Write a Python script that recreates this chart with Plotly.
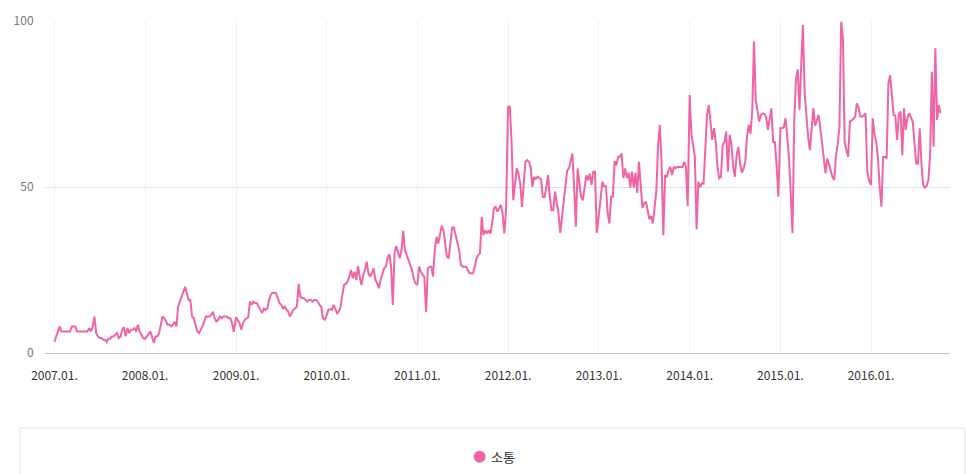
import datetime as dt
import plotly.graph_objects as go

# ---- data (weekly index values) ----
series_name = "소통"
years = [2007, 2008, 2009, 2010, 2011, 2012, 2013, 2014, 2015, 2016]

v2007 = [3.4, 5, 7, 8, 6.5, 6.5, 6.5, 6.5, 6.5, 6.5, 8, 8, 8, 6.5, 6.5, 6.5, 6.5, 6.5, 6.5, 6.5,
         7.5, 6.5, 8, 11, 6, 5, 4.5, 4.5, 4, 4, 3.3, 4.3, 4.3, 5, 5, 5.5, 6, 4.5, 5, 7,
         7.8, 5, 7.5, 6, 7, 7, 7.5, 6.5, 8.5, 6.5, 5.5, 4.5]
v2008 = [4.2, 5, 5.5, 6.5, 4.9, 3, 5, 5, 6, 9, 11, 10.5, 9.5, 8.5, 8.5, 8, 8.5, 9.4, 8, 14,
         15.5, 17, 19, 19.9, 18, 16, 16, 11, 10.5, 8, 6.5, 6, 7, 8, 9.5, 11, 11, 11, 11.5, 12.4,
         10.5, 9.5, 10, 11, 10.5, 11, 11, 11, 10.5, 10.5, 9, 6.4]
v2009 = [10.8, 10, 9, 7, 9, 10, 10.5, 10.8, 15.5, 14.5, 15.5, 15, 15, 14.2, 13, 12, 13.4, 13, 13.5, 16,
         17.5, 18.2, 18.2, 18, 16.5, 15, 14.5, 13.4, 14, 13, 12.5, 11, 12, 13, 13.5, 14, 20.8, 17, 16.5, 16.5,
         16, 15.5, 16, 16, 15.5, 16, 16, 15.5, 14.5, 14, 10.5, 10]
v2010 = [11.4, 13, 13.2, 13, 14.5, 13, 12, 12.5, 14, 17.5, 20.5, 20.8, 21.5, 23, 25, 22.5, 24.5, 22, 26.2, 23,
         20.5, 23.5, 25, 27.5, 24, 23, 24, 25.5, 22, 21, 19.5, 22, 24, 25.5, 26, 28.5, 29.8, 26, 14.5, 30,
         32.2, 30, 28.5, 31, 36.8, 31, 29.5, 28.5, 27, 25, 22.5, 21]
v2011 = [20.5, 26, 24.5, 23.5, 23, 12.3, 25.5, 26, 26, 23, 31, 35, 33, 36, 38.3, 37, 32, 29, 28.5, 33,
         37.8, 37.8, 35.5, 33, 31, 26.5, 26, 26, 26, 25, 24, 24, 24, 26, 28.5, 29.5, 30, 41, 35.5, 37,
         36, 37, 36, 39, 43.6, 44, 42.6, 43.6, 44.6, 42, 36, 43]
v2012 = [74.2, 74.2, 64, 46, 51, 55.6, 54, 51, 44, 51, 57.6, 58.1, 57.6, 56, 50, 53, 52.5, 53.1, 52.6, 52.3,
         47, 47, 50, 53.6, 47, 43, 43, 48.6, 45.2, 42.1, 36.2, 41, 44, 49, 55, 55.6, 58, 60.1, 50, 38,
         55.6, 50.6, 47, 46, 50, 53.6, 52, 54, 50.6, 54.6, 54.6, 36.2]
v2013 = [42, 48, 51.6, 50.2, 50.2, 42.1, 39, 47.1, 47.1, 57.8, 56.5, 59.1, 59.1, 60.1, 52.7, 55.6, 52.7, 54.3, 49.8, 54.6,
         49.8, 54.3, 48.2, 57.6, 51, 43.7, 45, 45.6, 43, 40.3, 41.3, 39, 44, 49, 62.6, 68.7, 57, 35.5, 53.6, 53,
         55, 56.1, 53.6, 56.1, 55.6, 56.1, 56, 56, 56, 57.6, 56, 44.3]
v2014 = [77.7, 66, 62.6, 59, 37.3, 51.6, 50, 51.1, 51, 60.6, 71.7, 74.7, 69.7, 64.2, 67.7, 63.6, 56.1, 52.6, 53, 62.7,
         63.5, 66.7, 54.6, 65.7, 63, 56.1, 53.1, 59.6, 62.1, 57, 54.3, 55.5, 57.6, 65.2, 68.7, 66, 73.2, 93.8, 76.2, 72.7,
         69.7, 71.7, 72.2, 72, 71, 67.2, 70.2, 73.7, 63.6, 63.5, 56.6, 47.1]
v2015 = [67.7, 67.7, 68, 70.7, 65, 58.6, 48, 36.1, 69.7, 82.4, 85.4, 73.2, 86.7, 98.8, 78.2, 70.7, 65, 61.1, 68.7, 73.7,
         68.5, 70, 71.7, 67.7, 63, 58, 54.1, 58.6, 57, 55, 53, 52.1, 59.6, 63, 68, 99.8, 94.8, 63.6, 61, 59.1,
         69.7, 70, 70.5, 71.2, 75.2, 74, 71.2, 71.2, 71.5, 72.2, 54.6, 52]
v2016 = [50.6, 70.7, 66, 63.6, 58.6, 50, 44.1, 59.1, 59.1, 58.6, 81.2, 83.7, 77, 71.7, 71.5, 64.2, 72, 72.7, 59.6, 73.7,
         67.2, 71, 72.2, 71, 69.7, 63.1, 57.1, 57, 67.7, 57.1, 50.6, 49.8, 50.3, 52.1, 59.6, 84.7, 62.1, 91.8, 70.2, 74.7,
         72.2]

yearly_values = [v2007, v2008, v2009, v2010, v2011, v2012, v2013, v2014, v2015, v2016]
tick_labels = ["2007.01.", "2008.01.", "2009.01.", "2010.01.", "2011.01.",
               "2012.01.", "2013.01.", "2014.01.", "2015.01.", "2016.01."]
y_ticks = [0, 50, 100]

# ---- build weekly dates ----
dates, values = [], []
for yr, vals in zip(years, yearly_values):
    start = dt.date(yr, 1, 1)
    for k, v in enumerate(vals):
        dates.append(start + dt.timedelta(days=7 * k))
        values.append(v)

tick_dates = [dt.date(y, 1, 1) for y in years]

LINE_COLOR = "#f064a6"
FONT = "Noto Sans CJK KR, Noto Sans, sans-serif"

fig = go.Figure()
fig.add_trace(go.Scatter(
    x=dates, y=values, mode="lines",
    line=dict(color=LINE_COLOR, width=2),
    showlegend=False, name=series_name,
))

# custom legend (boxed area below chart, circle + label)
leg_cx, leg_cy = 0.4803, -0.3123
legend_shapes = [
    dict(type="rect", xref="paper", yref="paper",
         x0=-0.0276, x1=1.0166, y0=-0.226, y1=-0.45,
         line=dict(color="#e3e3e3", width=1), fillcolor="rgba(0,0,0,0)", layer="below"),
    dict(type="circle", xref="paper", yref="paper",
         x0=leg_cx - 0.00663, x1=leg_cx + 0.00663, y0=leg_cy - 0.01807, y1=leg_cy + 0.01807,
         line=dict(color=LINE_COLOR, width=0), fillcolor=LINE_COLOR),
]

fig.update_layout(
    width=966, height=474,
    margin=dict(l=45, r=16, t=21, b=121, autoexpand=False),
    paper_bgcolor="white", plot_bgcolor="white",
    font=dict(family=FONT, size=12, color="#333333"),
    showlegend=False,
    xaxis=dict(
        type="date",
        range=[dt.date(2006, 11, 24), dt.date(2016, 11, 14)],
        tickmode="array", tickvals=tick_dates, ticktext=tick_labels,
        showgrid=True, gridcolor="#f1f1f1", gridwidth=1,
        showline=False, zeroline=False,
        ticks="outside", ticklen=12, tickcolor="rgba(0,0,0,0)",
        tickfont=dict(family=FONT, size=12, color="#333333"),
        automargin=False,
    ),
    yaxis=dict(
        range=[0, 100],
        tickmode="array", tickvals=y_ticks,
        showgrid=True, gridcolor="#e3e3e3", gridwidth=1,
        zeroline=True, zerolinecolor="#c8c8c8", zerolinewidth=1,
        showline=False,
        ticks="outside", ticklen=8, tickcolor="rgba(0,0,0,0)",
        tickfont=dict(family=FONT, size=12, color="#777777"),
        automargin=False,
    ),
    shapes=legend_shapes,
    annotations=[dict(
        text=series_name, xref="paper", yref="paper",
        x=leg_cx + 0.0103, y=leg_cy, xanchor="left", yanchor="middle",
        showarrow=False, font=dict(family=FONT, size=13, color="#333333"),
    )],
)

fig.write_html("out.html", config={"displayModeBar": False},
               post_script="document.body.style.margin='0';")
